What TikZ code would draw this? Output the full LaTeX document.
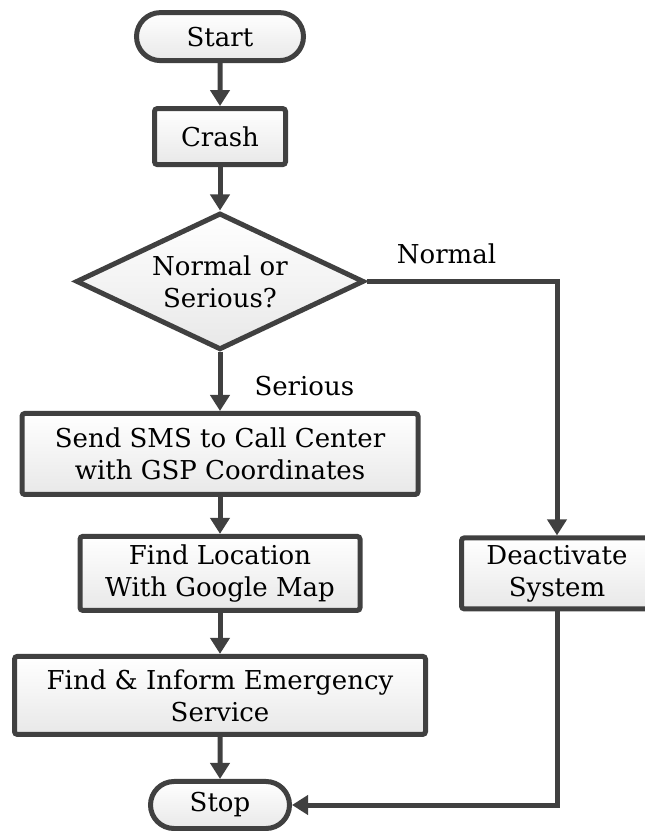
\documentclass[tikz,border=0pt]{standalone}
\usepackage{fontspec}
\setmainfont{DejaVu Serif}
\usepackage{tikz}
\usetikzlibrary{arrows.meta,shapes.geometric,shapes.misc}
\definecolor{lineGray}{HTML}{404040}
\definecolor{fillLow}{HTML}{E8E8E8}
\tikzset{
  procbox/.style={draw=lineGray,line width=0.125cm,rounded corners=2pt,top color=white,bottom color=fillLow,align=center,font=\fontsize{18.5}{22.8}\selectfont,inner sep=0pt},
  termbox/.style={procbox,sharp corners,rounded rectangle},
  decbox/.style={procbox,sharp corners,diamond,aspect=2.1},
  flow/.style={-{Triangle[length=0.4cm,width=0.475cm]},line width=0.125cm,color=lineGray},
  lab/.style={font=\fontsize{18.5}{22.8}\selectfont,inner sep=0pt,text=black},
}

\begin{document}
\begin{tikzpicture}
  \useasboundingbox (0,0) rectangle (16.1,20.775);
  % main column
  \node[termbox,minimum width=4.175cm,minimum height=1.2cm] (start) at (5.5,19.86) {Start};
  \node[procbox,minimum width=3.275cm,minimum height=1.4cm] (crash) at (5.5,17.36) {Crash};
  \node[decbox,minimum width=7.2cm,minimum height=3.42cm] (check) at (5.5,13.74) {Normal or\\Serious?};
  \node[procbox,minimum width=9.9cm,minimum height=2.025cm] (sms) at (5.5,9.425) {Send SMS to Call Center\\with GSP Coordinates};
  \node[procbox,minimum width=7cm,minimum height=1.85cm] (locate) at (5.5,6.44) {Find Location\\With Google Map};
  \node[procbox,minimum width=10.275cm,minimum height=1.95cm] (inform) at (5.5,3.39) {Find \& Inform Emergency\\Service};
  \node[termbox,minimum width=3.475cm,minimum height=1.175cm] (stop) at (5.5,0.65) {Stop};
  % side branch
  \node[procbox,minimum width=4.775cm,minimum height=1.775cm] (deact) at (13.925,6.44) {Deactivate\\System};
  \draw[flow] (start) -- (crash);
  \draw[flow] (crash) -- (check);
  \draw[flow] (check.south) -- node[lab,right=0.8cm,pos=0.57]{Serious} (sms.north);
  \draw[flow] (sms) -- (locate);
  \draw[flow] (locate) -- (inform);
  \draw[flow] (inform) -- (stop);
  \draw[flow] (check.east) -| node[lab,above=0.375cm,pos=0.21]{Normal} (deact.north);
  \draw[flow] (deact.south) |- (stop.east);
\end{tikzpicture}
\end{document}
